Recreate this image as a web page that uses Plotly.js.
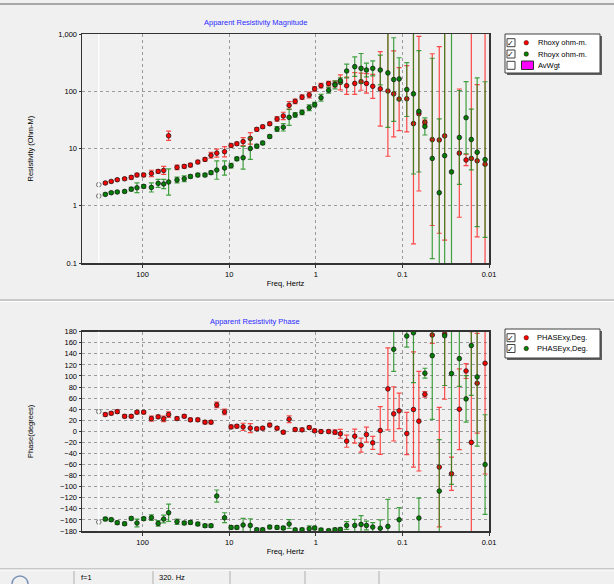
<!DOCTYPE html>
<html>
<head>
<meta charset="utf-8">
<script src="https://cdn.plot.ly/plotly-3.0.1.min.js"></script>
<style>
  html, body { margin: 0; padding: 0; background: #f0f0f0; }
  #chart { width: 614px; height: 584px; }
</style>
</head>
<body>
<div id="chart"></div>
<script>
// Sounding frequencies (Hz), highest first
const FREQ_HZ = [320, 269, 230, 196, 161, 135, 116, 97, 79, 66,
  57, 50, 40, 33, 28, 23, 19, 16.2, 13.9, 11.3,
  9.5, 8.15, 6.9, 5.7, 4.8, 4.1, 3.4, 2.8, 2.37, 2.03,
  1.73, 1.44, 1.19, 1.03, 0.87, 0.71, 0.6, 0.52, 0.44, 0.355,
  0.3, 0.26, 0.22, 0.18, 0.147, 0.126, 0.109, 0.089, 0.0745, 0.0645,
  0.055, 0.0452, 0.0375, 0.0325, 0.0271, 0.022, 0.0184, 0.016, 0.0137, 0.0111];

// Apparent resistivity (ohm-m)
const RHO_XY = [2.33, 2.5, 2.66, 2.85, 2.96, 3.13, 3.44, 3.44, 3.67, 3.98,
  4.14, 16.7, 4.68, 4.87, 5.13, 5.8, 6.45, 7.6, 8.3, 8.8,
  11.3, 12.1, 13.2, 15, 21.6, 24, 27, 32.8, 37, 56.7,
  66.7, 79, 86, 110, 125, 136, 134, 143, 125, 137,
  147, 137, 122, 110, 101, 90, 73, 74, 27.2, 40.5,
  28.6, 14.3, 14.1, 16.6, null, 8.3, 6.3, 6.7, 6.1, 5.3];
const RHO_YX = [1.48, 1.58, 1.69, 1.74, 1.78, 1.95, 2.06, 2.18, 2.09, 2.46,
  2.4, 2.6, 2.82, 2.96, 3.25, 3.44, 3.44, 3.78, 4.2, 4.57,
  5.0, 6.6, 6.9, 10, 11, 12.5, 16.2, 21.9, 23.5, 35,
  38.5, 42.8, 51.6, 58.3, 77, 104, 129, 153, 226, 269,
  251, 235, 251, 235, 209, 160, 164, 107, 90, 44.6,
  24.3, 6.7, 1.69, 7.5, 3.9, 15.6, 34.5, 14.4, 8.6, 6.4];

// Resistivity uncertainty, in decades (log10 units)
const ERR_XY = [0.02, 0.02, 0.02, 0.02, 0.02, 0.03, 0.03, 0.03, 0.055, 0.03,
  0.07, 0.08, 0.04, 0.03, 0.03, 0.03, 0.03, 0.05, 0.07, 0.09,
  0.03, 0.03, 0.07, 0.1, 0.03, 0.03, 0.03, 0.04, 0.065, 0.065,
  0.04, 0.04, 0.05, 0.04, 0.04, 0.04, 0.05, 0.13, 0.15, 0.19,
  0.15, 0.17, 0.21, 0.65, 1.14, 0.75, 0.55, 0.58, 2.1, 1.35,
  0.04, 1.5, 1.63, 1.82, null, 1.12, 0.1, 2.5, 1.33, 2.5];
const ERR_YX = [0.02, 0.02, 0.02, 0.02, 0.02, 0.03, 0.085, 0.03, 0.08, 0.07,
  0.08, 0.23, 0.05, 0.05, 0.03, 0.03, 0.03, 0.03, 0.16, 0.125,
  0.04, 0.03, 0.2, 0.19, 0.03, 0.03, 0.03, 0.04, 0.065, 0.14,
  0.04, 0.04, 0.05, 0.04, 0.06, 0.05, 0.07, 0.05, 0.12, 0.17,
  0.26, 0.12, 0.13, 0.26, 0.95, 0.73, 0.37, 0.47, 1.4, 1.06,
  0.15, 1.75, 1.29, 2.5, 2.5, 0.82, 0.63, 0.53, 1.3, 1.36];

// Impedance phase (degrees) and its uncertainty
const PHASE_XY = [35.7, 30.3, 32.6, 35.6, 27.2, 27.2, 34.6, 34.6, 23.1, 26.2,
  22.6, 30.3, 23.1, 27.2, 20.8, 20.8, 16.6, 16.6, 47.8, 35,
  8.1, 9.3, 8.1, 5.8, 4.5, 5.8, 11.3, 5.8, -1.5, 21.9,
  3.3, 2.7, 6.8, 0.9, -0.4, -0.4, -1.5, -4.5, -17.7, -8.7,
  -25, -5.8, -20.7, 1.5, 76.7, 31.6, 37, -3.9, 39.4, 18.4,
  67, 174, -64.6, 176, -76.7, 40, 109, -20, 86.9, 123];
const PHASE_YX = [-163.8, -158.4, -159.6, -165, -166.9, -157.3, -165.6, -157.8, -156, -166.3,
  -158.4, -147, -163.3, -165.6, -164.5, -167.4, -170.5, -170.5, -116.9, -156,
  -173.5, -173.5, -169.2, -169.9, -177.7, -177.7, -172.9, -173.5, -174.6, -167.4,
  -178, -177.7, -175.9, -174.6, -178.2, -179.5, -177.7, -177.1, -170, -170,
  -168.1, -170, -172.9, -175, -171.7, 148.2, -159.6, 172.2, 178, -156.6,
  105, 136.7, -107.9, 172.8, 104.3, 131.4, 58.6, 155, 98.3, -60];
const ERR_PXY = [3, 3, 3, 3, 3, 3, 3, 3, 4.5, 3,
  5, 5, 3, 3, 3, 3, 3, 3, 5, 5,
  3, 3, 6.5, 8, 3, 3, 3, 3, 3, 6,
  3, 3, 3, 3, 3, 3, 4, 8, 11, 12.6,
  12.6, 13.5, 11.7, 43, 74, 49, 32, 38, 104, 90,
  5, 15, 108, 118, 30, 73, 13.5, 200, 90, 200];
const ERR_PYX = [3, 3, 3, 3, 3, 3, 7, 3, 5, 5,
  7, 15.6, 5, 3, 3, 3, 3, 3, 11, 9,
  3, 3, 12, 12, 3, 3, 3, 3, 3, 8,
  3, 3, 5, 3, 3, 3, 3, 3, 7, 11,
  16, 8, 8, 15, 49, 40, 22, 20, 90, 36,
  9, 115, 93, 90, 200, 50, 42, 90, 125, 90];

// Axis tick labels
const FREQ_TICKS = [100, 10, 1, 0.1, 0.01];
const FREQ_TICK_TEXT = ['100', '10', '1', '0.1', '0.01'];
const RHO_TICKS = [0.1, 1, 10, 100, 1000];
const RHO_TICK_TEXT = ['0.1', '1', '10', '100', '1,000'];
const PHASE_TICKS = [-180, -160, -140, -120, -100, -80, -60, -40, -20, 0,
  20, 40, 60, 80, 100, 120, 140, 160, 180];

// Legend labels
const MAG_LEGEND = ['Rhoxy ohm-m.', 'Rhoyx ohm-m.', 'AvWgt'];
const PHASE_LEGEND = ['PHASExy,Deg.', 'PHASEyx,Deg.'];

// ---- page geometry (pixels) ----
const W = 614, H = 584, ML = 82, MR = 125, MT = 34, MB = 53;
const PW = W - ML - MR, PH = H - MT - MB;
const px = x => (x - ML) / PW;           // pixel x -> paper
const py = y => (H - MB - y) / PH;       // pixel y -> paper

const FONT = 'Liberation Sans, Arial, sans-serif';
const RED = '#ff0000', GREEN = '#008000';
const RED_BAR = 'rgba(255,30,30,0.8)', GREEN_BAR = 'rgba(20,140,20,0.8)';

// log-decade uncertainty -> plus / minus in data units
const upper = (v, e) => v.map((r, i) => (r == null || e[i] == null) ? null : r * (Math.pow(10, e[i]) - 1));
const lower = (v, e) => v.map((r, i) => (r == null || e[i] == null) ? null : r * (1 - Math.pow(10, -e[i])));

const rest = a => a.slice(1);

function pointTrace(x, y, errPlus, errMinus, fill, bar, xa, ya, name) {
  return {
    type: 'scatter', mode: 'markers', name: name,
    x: x, y: y, xaxis: xa, yaxis: ya,
    marker: { symbol: 'circle', size: 4.6, color: fill, line: { color: '#1a1a1a', width: 0.8 } },
    error_y: { type: 'data', symmetric: false, array: errPlus, arrayminus: errMinus,
               color: bar, thickness: 1.2, width: 2.5 },
    hoverinfo: 'x+y'
  };
}
function firstPointTrace(x, y, xa, ya) {
  return {
    type: 'scatter', mode: 'markers', x: x, y: y, xaxis: xa, yaxis: ya,
    marker: { symbol: 'circle-open', size: 4.6, color: '#707070', line: { width: 1 } },
    hoverinfo: 'skip'
  };
}

const data = [
  // magnitude panel
  pointTrace(rest(FREQ_HZ), rest(RHO_XY), rest(upper(RHO_XY, ERR_XY)), rest(lower(RHO_XY, ERR_XY)), RED, RED_BAR, 'x', 'y', MAG_LEGEND[0]),
  pointTrace(rest(FREQ_HZ), rest(RHO_YX), rest(upper(RHO_YX, ERR_YX)), rest(lower(RHO_YX, ERR_YX)), GREEN, GREEN_BAR, 'x', 'y', MAG_LEGEND[1]),
  firstPointTrace([FREQ_HZ[0], FREQ_HZ[0]], [RHO_XY[0], RHO_YX[0]], 'x', 'y'),
  // phase panel
  pointTrace(rest(FREQ_HZ), rest(PHASE_XY), rest(ERR_PXY), rest(ERR_PXY), RED, RED_BAR, 'x2', 'y2', PHASE_LEGEND[0]),
  pointTrace(rest(FREQ_HZ), rest(PHASE_YX), rest(ERR_PYX), rest(ERR_PYX), GREEN, GREEN_BAR, 'x2', 'y2', PHASE_LEGEND[1]),
  firstPointTrace([FREQ_HZ[0], FREQ_HZ[0]], [PHASE_XY[0], PHASE_YX[0]], 'x2', 'y2')
];

const freqAxis = (anchor) => ({
  type: 'log', anchor: anchor, range: [Math.log10(500), -2],
  tickmode: 'array', tickvals: FREQ_TICKS, ticktext: FREQ_TICK_TEXT,
  ticks: 'outside', ticklen: 3, tickcolor: '#333',
  showline: true, mirror: true, linecolor: '#333', linewidth: 1.5,
  showgrid: true, gridcolor: '#9a9a9a', griddash: '3px,3px', gridwidth: 1,
  zeroline: false, tickfont: { size: 7.5 },
  title: { text: 'Freq, Hertz', font: { size: 7.5 }, standoff: 3 }
});

const TOP_DOMAIN = [py(263), 1];
const BOTTOM_DOMAIN = [0, py(331.7)];

const layout = {
  width: W, height: H,
  paper_bgcolor: '#f0f0f0', plot_bgcolor: 'rgba(0,0,0,0)',
  margin: { l: ML, r: MR, t: MT, b: MB, pad: 0 },
  showlegend: false,
  font: { family: FONT, size: 7.5, color: '#000' },
  xaxis: freqAxis('y'),
  xaxis2: freqAxis('y2'),
  yaxis: {
    type: 'log', domain: TOP_DOMAIN, range: [-1, 3],
    tickmode: 'array', tickvals: RHO_TICKS, ticktext: RHO_TICK_TEXT,
    ticks: 'outside', ticklen: 2, tickcolor: '#333',
    showline: true, mirror: true, linecolor: '#333', linewidth: 1.5,
    showgrid: true, gridcolor: '#9a9a9a', griddash: '3px,3px', gridwidth: 1,
    zeroline: false, tickfont: { size: 7.5 }
  },
  yaxis2: {
    domain: BOTTOM_DOMAIN, range: [-180, 180],
    tickmode: 'array', tickvals: PHASE_TICKS,
    ticks: 'outside', ticklen: 2, tickcolor: '#333',
    showline: true, mirror: true, linecolor: '#333', linewidth: 1.5,
    showgrid: true, gridcolor: '#9a9a9a', griddash: '3px,3px', gridwidth: 1,
    zeroline: false, tickfont: { size: 7.5 }
  },
  shapes: [],
  annotations: []
};

const S = layout.shapes, A = layout.annotations;

// selected-frequency cursor (first sounding frequency) in both panels
S.push({ type: 'line', layer: 'above', xref: 'x', yref: 'y domain',
         x0: FREQ_HZ[0], x1: FREQ_HZ[0], y0: 0, y1: 1,
         line: { color: '#ffffff', width: 1.2 } });
S.push({ type: 'line', layer: 'above', xref: 'x2', yref: 'y2 domain',
         x0: FREQ_HZ[0], x1: FREQ_HZ[0], y0: 0, y1: 1,
         line: { color: '#ffffff', width: 1.2 } });

// window chrome: top rule, panel splitter, status bar
function hline(y, x0, x1, color, w) {
  S.push({ type: 'line', xref: 'paper', yref: 'paper', x0: px(x0), x1: px(x1), y0: py(y), y1: py(y),
           line: { color: color, width: w } });
}
function vline(x, y0, y1, color, w) {
  S.push({ type: 'line', xref: 'paper', yref: 'paper', x0: px(x), x1: px(x), y0: py(y0), y1: py(y1),
           line: { color: color, width: w } });
}
function rect(x0, y0, x1, y1, fill, lineColor, lw) {
  S.push({ type: 'rect', xref: 'paper', yref: 'paper', x0: px(x0), x1: px(x1), y0: py(y1), y1: py(y0),
           fillcolor: fill, line: { color: lineColor, width: lw } });
}
function text(x, y, t, opts) {
  A.push(Object.assign({ xref: 'paper', yref: 'paper', x: px(x), y: py(y), text: t, showarrow: false,
                         xanchor: 'left', yanchor: 'middle', font: { size: 7.5, color: '#000' } }, opts || {}));
}

hline(4, 0, 614, '#a8a8a8', 2);
hline(300, 0, 614, '#a0a0a0', 1);
hline(301.5, 0, 614, '#ffffff', 1);
hline(569, 0, 614, '#a0a0a0', 1);
hline(570, 0, 614, '#ffffff', 1);
[74, 153, 230, 305, 379].forEach(x => vline(x, 571, 584, '#b0b0b0', 1));
S.push({ type: 'circle', xref: 'paper', yref: 'paper', x0: px(12), x1: px(28), y0: py(592), y1: py(576),
         line: { color: '#7a94b8', width: 1.5 }, fillcolor: 'rgba(0,0,0,0)' });
text(79, 577.5, 'f=1');
text(157, 577.5, '320. Hz');

// panel titles
text(255, 22, 'Apparent Resistivity Magnitude', { xanchor: 'center', font: { size: 7.5, color: '#2b2bff' } });
text(255, 321, 'Apparent Resistivity Phase', { xanchor: 'center', font: { size: 7.5, color: '#2b2bff' } });

// y-axis titles
text(30, 148.5, 'Resistivity (Ohm-M)', { xanchor: 'center', textangle: -90 });
text(30, 431, 'Phase(degrees)', { xanchor: 'center', textangle: -90 });

// legend boxes with check boxes
function legendBox(x0, y0, x1, y1) {
  rect(x0 + 2, y0 + 2, x1 + 2, y1 + 2, '#606060', '#606060', 0);
  rect(x0, y0, x1, y1, '#ffffff', '#404040', 1);
}
function checkBox(y, checked) {
  rect(507, y - 4, 515, y + 4, '#ffffff', '#404040', 1);
  if (checked) text(511, y + 0.5, '✓', { xanchor: 'center', font: { size: 8, color: '#000', family: 'DejaVu Sans' } });
}
function dot(y, color) {
  S.push({ type: 'circle', xref: 'paper', yref: 'paper', x0: px(524), x1: px(528.5), y0: py(y + 2.25), y1: py(y - 2.25),
           fillcolor: color, line: { color: '#300000', width: 0.5 } });
}

legendBox(505, 34, 600, 73);
checkBox(42.7, true);  dot(42.7, RED);   text(536, 42.7, MAG_LEGEND[0]);
checkBox(54, true);    dot(54, GREEN);   text(536, 54, MAG_LEGEND[1]);
checkBox(65.3, false); rect(521.5, 61, 533.5, 69.5, '#ff00ff', '#303030', 1); text(536, 65.3, MAG_LEGEND[2]);

legendBox(505, 329, 600, 358);
checkBox(337.7, true); dot(337.7, RED);   text(534.5, 337.7, PHASE_LEGEND[0]);
checkBox(348.5, true); dot(348.5, GREEN); text(534.5, 348.5, PHASE_LEGEND[1]);

Plotly.newPlot('chart', data, layout, { displayModeBar: false, staticPlot: true });
</script>
</body>
</html>
